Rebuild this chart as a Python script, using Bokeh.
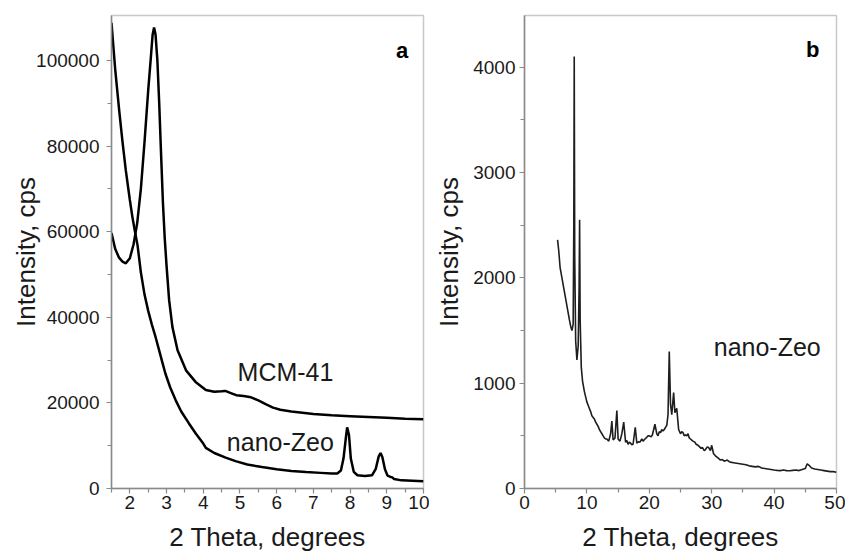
from bokeh.plotting import figure
from bokeh.layouts import row
from bokeh.models import FixedTicker, Range1d, BasicTickFormatter
from bokeh.core.properties import value
from bokeh.embed import file_html
from bokeh.resources import INLINE

# ---------------- panel a data ----------------
mcm_x = [1.5, 1.6, 1.7, 1.8, 1.89, 2.0, 2.1, 2.2, 2.3, 2.4, 2.5, 2.57, 2.62, 2.66, 2.7, 2.75,
         2.8, 2.84, 2.9, 2.95, 3.0, 3.07, 3.16, 3.3, 3.53, 3.79, 4.07, 4.3, 4.5, 4.6, 4.75,
         4.9, 5.1, 5.3, 5.5, 5.7, 5.9, 6.1, 6.4, 6.7, 7.0, 7.5, 8.0, 8.5, 9.0, 9.5, 10.0]
mcm_y = [59700, 56000, 54000, 53000, 52600, 53800, 57000, 62000, 70000, 81000, 93000, 100500,
         106000, 107700, 106000, 100000, 90000, 80500, 67000, 58500, 52000, 44000, 37700,
         32300, 27600, 24900, 23000, 22600, 22700, 22800, 22300, 21800, 21600, 21300, 20600,
         19700, 18900, 18400, 18000, 17700, 17400, 17100, 16900, 16700, 16500, 16300, 16200]

zeo_a_x = [1.5, 1.6, 1.71, 1.8, 1.89, 2.0, 2.07, 2.14, 2.21, 2.3, 2.4, 2.5, 2.6, 2.7, 2.8,
           2.9, 2.97, 3.1, 3.25, 3.4, 3.61, 3.8, 4.0, 4.07, 4.3, 4.61, 4.88, 5.2, 5.6, 6.0,
           6.4, 6.8, 7.2, 7.5, 7.65, 7.75, 7.82, 7.88, 7.92, 7.97, 8.02, 8.1, 8.2, 8.4, 8.6,
           8.7, 8.78, 8.83, 8.88, 8.95, 9.02, 9.1, 9.15, 9.2, 9.4, 9.7, 10.0]
zeo_a_y = [108800, 98000, 88300, 81000, 74300, 67400, 63400, 60000, 56800, 50500, 45300,
           41500, 38300, 35400, 32200, 29000, 26800, 23600, 20600, 18000, 15200, 12800, 10500,
           9500, 8300, 7200, 6400, 5600, 5000, 4500, 4100, 3850, 3650, 3500, 3500, 4200,
           7000, 11500, 14300, 12500, 7000, 3900, 3100, 2900, 3100, 4600, 7500, 8300, 7300,
           4500, 3000, 2700, 2600, 2200, 1900, 1800, 1700]

a_xticks = [2, 3, 4, 5, 6, 7, 8, 9, 10]
a_xminor = [1.5, 2.5, 3.5, 4.5, 5.5, 6.5, 7.5, 8.5, 9.5]
a_yticks = [0, 20000, 40000, 60000, 80000, 100000]
a_yminor = [10000, 30000, 50000, 70000, 90000]

# ---------------- panel b data ----------------
zeo_b_x = [5.3, 5.5, 5.7, 6.0, 6.3, 6.6, 6.9, 7.2, 7.4, 7.6, 7.8, 7.9, 7.97, 8.05, 8.2, 8.4,
           8.6, 8.75, 8.83, 8.92, 9.1, 9.3, 9.6, 10.0, 10.2, 10.4, 10.6, 10.8, 11.0, 11.2,
           11.4, 11.6, 11.8, 12.0, 12.2, 12.4, 12.6, 12.8, 13.0, 13.2, 13.5, 13.8, 14.0,
           14.2, 14.5, 14.8, 15.0, 15.3, 15.6, 15.9, 16.2, 16.4, 16.6, 16.8, 17.0, 17.2,
           17.4, 17.75, 18.0, 18.3, 18.5, 18.8, 19.0, 19.3, 19.5, 19.8, 20.0, 20.3, 20.5,
           20.9, 21.2, 21.4, 21.6, 21.8, 22.0, 22.2, 22.4, 22.6, 22.8, 23.0, 23.2, 23.4,
           23.6, 23.9, 24.1, 24.4, 24.7, 25.0, 25.2, 25.4, 25.6, 25.8, 26.0, 26.2, 26.4,
           26.6, 26.8, 27.0, 27.3, 27.5, 27.8, 28.0, 28.3, 28.5, 28.8, 29.0, 29.3, 29.5,
           29.8, 30.0, 30.3, 30.6, 30.8, 31.1, 31.4, 31.7, 32.0, 32.3, 32.5, 32.8, 33.0,
           33.5, 34.0, 34.5, 35.0, 35.5, 36.0, 36.5, 37.0, 37.5, 38.0, 38.5, 39.0, 39.5,
           40.0, 40.5, 41.0, 41.5, 42.0, 42.5, 43.0, 43.5, 44.0, 44.5, 45.0, 45.3, 45.6,
           46.0, 46.5, 47.0, 47.5, 48.0, 48.5, 49.0, 49.5, 50.0]
zeo_b_y = [2360, 2250, 2100, 2000, 1900, 1800, 1700, 1600, 1540, 1500, 1560, 2500, 4100, 2200,
           1400, 1220, 1350, 1900, 2550, 1600, 1150, 1020, 920, 820, 790, 760, 730, 690, 675,
           660, 630, 610, 590, 560, 540, 520, 500, 480, 470, 470, 450, 520, 640, 460, 480,
           740, 470, 450, 520, 630, 440, 455, 420, 440, 430, 415, 420, 580, 430, 445, 440,
           470, 450, 470, 480, 500, 500, 490, 510, 610, 520, 500, 540, 530, 560, 545, 560,
           580, 600, 700, 1300, 800, 700, 910, 720, 760, 560, 520, 540, 530, 500, 510, 500,
           520, 480, 470, 460, 450, 440, 420, 410, 400, 380, 390, 360, 370, 395, 390, 360,
           410, 330, 310, 300, 285, 270, 275, 260, 265, 270, 255, 250, 245, 240, 235, 230,
           225, 215, 210, 205, 210, 195, 190, 185, 180, 175, 172, 170, 175, 170, 168, 172,
           175, 170, 180, 190, 235, 220, 195, 185, 180, 175, 170, 165, 160, 160, 155]

b_xticks = [0, 10, 20, 30, 40, 50]
b_xminor = [5, 15, 25, 35, 45]
b_yticks = [0, 1000, 2000, 3000, 4000]
b_yminor = [500, 1500, 2500, 3500]

FONT = "Liberation Sans"


def style(p, xt, xm, yt, ym, ytick_standoff, ylab_standoff):
    p.xgrid.visible = False
    p.ygrid.visible = False
    p.outline_line_color = "#c8c8c8"
    p.outline_line_width = 1.5
    p.background_fill_color = "white"
    p.border_fill_color = "white"
    p.xaxis.ticker = FixedTicker(ticks=xt, minor_ticks=xm)
    p.yaxis.ticker = FixedTicker(ticks=yt, minor_ticks=ym)
    p.yaxis.formatter = BasicTickFormatter(use_scientific=False)
    for ax in (p.xaxis, p.yaxis):
        ax.axis_line_color = "#8a8a8a"
        ax.axis_line_width = 1.5
        ax.major_tick_line_color = "#8a8a8a"
        ax.minor_tick_line_color = "#8a8a8a"
        ax.major_tick_line_width = 1.2
        ax.minor_tick_line_width = 1.2
        ax.major_tick_in = 0
        ax.major_tick_out = 5
        ax.minor_tick_in = 0
        ax.minor_tick_out = 4
        ax.major_label_text_font = FONT
        ax.major_label_text_font_size = "19px"
        ax.major_label_text_color = "#1a1a1a"
        ax.axis_label_text_font = FONT
        ax.axis_label_text_font_size = "26px"
        ax.axis_label_text_font_style = "normal"
        ax.axis_label_text_color = "#1a1a1a"
    p.xaxis.major_label_standoff = 2
    p.xaxis.axis_label_standoff = 10
    p.yaxis.major_label_standoff = ytick_standoff
    p.yaxis.axis_label_standoff = ylab_standoff


# ---------------- panel a ----------------
pa = figure(width=429, height=557, output_backend="svg", toolbar_location=None,
            x_range=Range1d(1.5, 10), y_range=Range1d(0, 110500),
            min_border_left=111, min_border_right=6, min_border_top=15, min_border_bottom=69,
            x_axis_label="2 Theta, degrees", y_axis_label="Intensity, cps")
style(pa, a_xticks, a_xminor, a_yticks, a_yminor, 7, -8)
pa.line(mcm_x, mcm_y, line_color="black", line_width=2.5)
pa.line(zeo_a_x, zeo_a_y, line_color="black", line_width=2.5)
pa.text(x=[6.24], y=[27200], text=["MCM-41"], text_font=value(FONT), text_font_size="25px",
        text_align="center", text_baseline="middle", text_color="#1a1a1a")
pa.text(x=[6.1], y=[10800], text=["nano-Zeo"], text_font=value(FONT), text_font_size="25px",
        text_align="center", text_baseline="middle", text_color="#1a1a1a")
pa.text(x=[9.42], y=[102300], text=["a"], text_font=value(FONT), text_font_size="22px",
        text_font_style="bold", text_align="center", text_baseline="middle", text_color="black")

# ---------------- panel b ----------------
pb = figure(width=416, height=557, output_backend="svg", toolbar_location=None,
            x_range=Range1d(0, 50), y_range=Range1d(0, 4490),
            min_border_left=95, min_border_right=9, min_border_top=14, min_border_bottom=69,
            x_axis_label="2 Theta, degrees", y_axis_label="Intensity, cps")
style(pb, b_xticks, b_xminor, b_yticks, b_yminor, 4, 6)
pb.line(zeo_b_x, zeo_b_y, line_color="#1e1e1e", line_width=1.6)
pb.text(x=[38.9], y=[1340], text=["nano-Zeo"], text_font=value(FONT), text_font_size="25px",
        text_align="center", text_baseline="middle", text_color="#1a1a1a")
pb.text(x=[46.2], y=[4165], text=["b"], text_font=value(FONT), text_font_size="22px",
        text_font_style="bold", text_align="center", text_baseline="middle", text_color="black")

layout = row(pa, pb)
open("out.html", "w").write(file_html(layout, INLINE))
